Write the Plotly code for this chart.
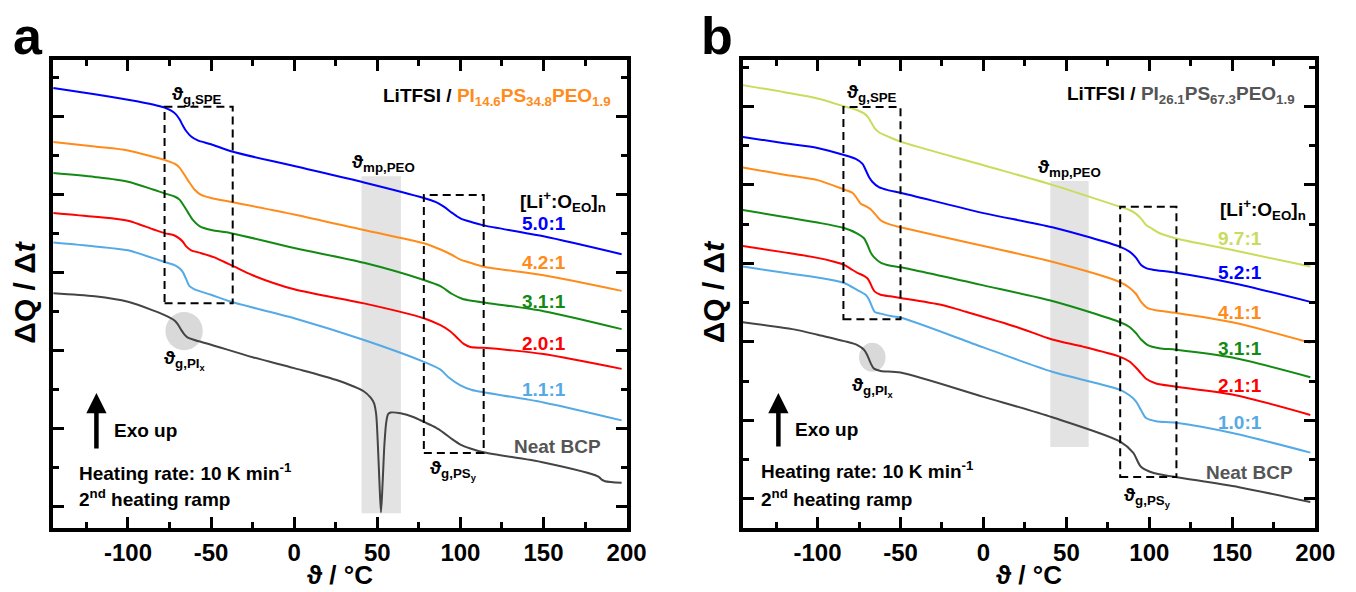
import plotly.graph_objects as go

# ---------------- data: panel a (LiTFSI / PI14.6PS34.8PEO1.9) ----------------
a_T_blue = [-145,-120,-100,-85,-78,-74,-71,-69,-67,-65,-62,-58,-50,-38,0,42,78,85,90,95,100,107,114,150,197]
a_blue   = [5.36,5.28,5.21,5.15,5.11,5.07,5.02,4.96,4.88,4.81,4.74,4.69,4.64,4.55,4.36,4.15,3.95,3.90,3.84,3.76,3.69,3.64,3.60,3.46,3.23]

a_T_orange = [-145,-120,-100,-85,-78,-72,-69,-67,-64,-60,-56,-50,-38,0,42,78,88,95,100,106,114,150,197]
a_orange   = [4.67,4.61,4.56,4.48,4.44,4.39,4.34,4.28,4.18,4.06,3.99,3.95,3.90,3.74,3.54,3.37,3.29,3.22,3.16,3.12,3.07,2.96,2.76]

a_T_green = [-145,-120,-100,-85,-78,-72,-69,-67,-64,-61,-57,-50,-38,0,42,78,88,95,101,108,114,150,197]
a_green   = [4.27,4.22,4.16,4.06,4.01,3.97,3.93,3.87,3.77,3.67,3.59,3.54,3.50,3.31,3.12,2.90,2.82,2.72,2.66,2.63,2.61,2.50,2.27]

a_T_red = [-145,-120,-100,-85,-78,-72,-69,-67,-65,-62,-57,-48,-42,-36,-25,0,42,78,88,94,98,102,106,114,130,150,197]
a_red   = [3.76,3.71,3.66,3.55,3.50,3.47,3.43,3.39,3.33,3.28,3.25,3.19,3.13,3.07,2.96,2.78,2.60,2.41,2.32,2.24,2.16,2.08,2.04,2.03,2.00,1.95,1.76]

a_T_lblue = [-145,-120,-100,-85,-78,-72,-69,-67,-65,-63,-60,-50,-38,0,42,78,88,93,100,107,114,150,197]
a_lblue   = [3.38,3.33,3.28,3.18,3.13,3.09,3.05,3.00,2.91,2.82,2.78,2.71,2.62,2.41,2.13,1.85,1.75,1.65,1.55,1.49,1.46,1.33,1.10]

a_T_neat = [-145,-120,-100,-85,-76,-72,-70,-68,-66,-64,-60,-50,-25,0,25,42,46,48,49.3,50.2,51.2,52.2,53.2,54.3,55.4,56.5,58,64,72,78,85,90,95,100,106,114,150,183,185,187,197]
a_neat   = [2.73,2.69,2.62,2.51,2.43,2.38,2.33,2.26,2.20,2.16,2.13,2.07,1.91,1.77,1.62,1.47,1.39,1.32,1.18,0.85,0.35,-0.08,0.30,0.80,1.08,1.18,1.20,1.19,1.14,1.08,1.01,0.94,0.86,0.79,0.74,0.69,0.56,0.38,0.34,0.32,0.30]

a_labels = ["5.0:1", "4.2:1", "3.1:1", "2.0:1", "1.1:1", "Neat BCP"]
a_label_y = [3.63, 3.12, 2.62, 2.09, 1.49, 0.76]

# ---------------- data: panel b (LiTFSI / PI26.1PS67.3PEO1.9) ----------------
b_T_ygreen = [-145,-120,-100,-84,-76,-72,-69.5,-67.5,-65.5,-63,-57,-50,0,41.5,82.4,88,92,95,98,100.3,105.6,115.7,150,197]
b_ygreen   = [5.27,5.18,5.10,5.00,4.95,4.91,4.86,4.79,4.72,4.67,4.61,4.55,4.25,4.00,3.72,3.68,3.63,3.57,3.49,3.46,3.39,3.32,3.17,2.96]

b_T_blue = [-145,-120,-100,-84,-77,-73,-71,-69,-67,-63,-57,-50,0,41.5,82.4,88,92,95,98,102,116,150,197]
b_blue   = [4.61,4.53,4.47,4.38,4.33,4.27,4.19,4.10,4.04,3.97,3.93,3.90,3.64,3.46,3.21,3.15,3.07,2.98,2.94,2.92,2.88,2.75,2.51]

b_T_orange = [-145,-120,-100,-84,-79,-76,-74,-71,-68,-65,-62,-57,-50,0,41.5,82.4,88,92,95,99,105,116,150,197]
b_orange   = [4.22,4.13,4.06,3.94,3.90,3.82,3.76,3.73,3.69,3.62,3.55,3.50,3.46,3.22,3.02,2.76,2.69,2.61,2.51,2.43,2.40,2.37,2.25,1.99]

b_T_green = [-145,-120,-100,-84,-76,-72,-70,-68,-66,-62,-56,-50,0,41.5,82.4,88,92,95,99,106,116,150,197]
b_green   = [3.68,3.59,3.52,3.45,3.38,3.32,3.24,3.14,3.08,3.01,2.97,2.95,2.72,2.52,2.25,2.19,2.11,2.03,1.96,1.92,1.90,1.80,1.55]

b_T_red = [-145,-120,-100,-90,-84,-80,-76,-72,-70,-68.5,-67,-65.5,-62,-56,-50,-25,-10,20,41.5,60,82.4,88,92,95,98,104,116,150,197]
b_red   = [3.22,3.14,3.07,3.02,2.98,2.93,2.88,2.84,2.81,2.76,2.69,2.64,2.60,2.58,2.56,2.47,2.38,2.19,2.03,1.94,1.81,1.75,1.67,1.60,1.53,1.47,1.43,1.33,1.07]

b_T_lblue = [-145,-120,-100,-84,-76,-71,-69,-67,-65.5,-62,-56,-50,0,41.5,82.4,88,92,95,98,104,116,150,197]
b_lblue   = [2.96,2.88,2.82,2.75,2.66,2.60,2.54,2.44,2.38,2.36,2.33,2.31,1.93,1.62,1.39,1.32,1.24,1.13,1.03,0.99,0.97,0.84,0.59]

b_T_neat = [-145,-112,-100,-84,-76,-72,-70,-68,-66,-62,-50,0,41.5,82.4,90.2,94.9,102.6,115.7,154,197]
b_neat   = [2.25,2.15,2.09,2.01,1.96,1.90,1.83,1.73,1.66,1.63,1.61,1.30,1.04,0.73,0.59,0.41,0.33,0.28,0.15,-0.04]

b_labels = ["9.7:1", "5.2:1", "4.1:1", "3.1:1", "2.1:1", "1.0:1", "Neat BCP"]
b_label_y = [3.32, 2.88, 2.38, 1.92, 1.45, 0.97, 0.34]

x_tick_vals = [-100, -50, 0, 50, 100, 150, 200]
x_tick_text = ["-100", "-50", "0", "50", "100", "150", "200"]

# ---------------- styling ----------------
FONT = "Liberation Sans, Arial, sans-serif"
C_BLUE = "#0000ff"
C_ORANGE = "#ff8c1a"
C_GREEN = "#138a13"
C_RED = "#ff0000"
C_LBLUE = "#55aae6"
C_GRAY = "#444444"
C_YGREEN = "#c9dc5c"
C_LABGRAY = "#555555"

W, H = 1356, 592

fig = go.Figure()

def add_curve(T, y, color, xa, ya):
    fig.add_trace(go.Scatter(x=T, y=y, mode="lines", xaxis=xa, yaxis=ya,
                             line=dict(color=color, width=2, shape="spline", smoothing=0.8),
                             showlegend=False, hoverinfo="skip"))

for T, y, c in [(a_T_blue, a_blue, C_BLUE), (a_T_orange, a_orange, C_ORANGE),
                (a_T_green, a_green, C_GREEN), (a_T_red, a_red, C_RED),
                (a_T_lblue, a_lblue, C_LBLUE), (a_T_neat, a_neat, C_GRAY)]:
    add_curve(T, y, c, "x", "y")

for T, y, c in [(b_T_ygreen, b_ygreen, C_YGREEN), (b_T_blue, b_blue, C_BLUE),
                (b_T_orange, b_orange, C_ORANGE), (b_T_green, b_green, C_GREEN),
                (b_T_red, b_red, C_RED), (b_T_lblue, b_lblue, C_LBLUE),
                (b_T_neat, b_neat, C_GRAY)]:
    add_curve(T, y, c, "x2", "y2")

def xaxis_cfg(domain, anchor):
    return dict(domain=domain, anchor=anchor, range=[-145, 200],
                tickvals=x_tick_vals, ticktext=x_tick_text,
                ticks="inside", ticklen=11, tickwidth=3, tickcolor="black",
                minor=dict(tickvals=[-125, -75, -25, 25, 75, 125, 175], ticks="inside",
                           ticklen=6, tickwidth=2.5, tickcolor="black"),
                showline=True, linewidth=4, linecolor="black", mirror="allticks",
                showgrid=False, zeroline=False,
                tickfont=dict(family=FONT, size=24, color="black", weight="bold"))

def yaxis_cfg(domain, anchor, rng):
    return dict(domain=domain, anchor=anchor, range=rng,
                dtick=1, tick0=0, showticklabels=False,
                ticks="inside", ticklen=11, tickwidth=3, tickcolor="black",
                minor=dict(dtick=0.5, tick0=0.5, ticks="inside", ticklen=6, tickwidth=2.5,
                           tickcolor="black"),
                showline=True, linewidth=4, linecolor="black", mirror="allticks",
                showgrid=False, zeroline=False)

ydom = [(H - 528) / H, (H - 60) / H]
fig.update_layout(
    width=W, height=H, margin=dict(l=0, r=0, t=0, b=0),
    paper_bgcolor="white", plot_bgcolor="white",
    xaxis=xaxis_cfg([54 / W, 636 / W], "y"),
    yaxis=yaxis_cfg(ydom, "x", [-0.28, 5.72]),
    xaxis2=xaxis_cfg([754 / W, 1335 / W], "y2"),
    yaxis2=yaxis_cfg(ydom, "x2", [-0.37, 5.59]),
    font=dict(family=FONT, color="black"),
)

shapes = []
def rect(xr, yr, x0, x1, y0, y1, dashed=False, fill=None):
    if dashed:
        shapes.append(dict(type="rect", xref=xr, yref=yr, x0=x0, x1=x1, y0=y0, y1=y1,
                           line=dict(color="black", width=2, dash="8px,5px"),
                           fillcolor="rgba(0,0,0,0)", layer="above"))
    else:
        shapes.append(dict(type="rect", xref=xr, yref=yr, x0=x0, x1=x1, y0=y0, y1=y1,
                           line=dict(width=0), fillcolor=fill, layer="below"))

def circle(xr, yr, x0, x1, y0, y1):
    shapes.append(dict(type="circle", xref=xr, yref=yr, x0=x0, x1=x1, y0=y0, y1=y1,
                       line=dict(width=0), fillcolor="#d9d9d9", layer="below"))

# panel a
rect("x", "y", 40.5, 64.2, -0.09, 4.23, fill="#e3e3e3")
rect("x", "y", -78, -37, 2.60, 5.12, dashed=True)
rect("x", "y", 78, 114, 0.68, 3.99, dashed=True)
circle("x", "y", -77.5, -55, 2.00, 2.49)
# panel b
rect("x2", "y2", 40.3, 63.4, 0.66, 4.05, fill="#e3e3e3")
rect("x2", "y2", -84.4, -50, 2.29, 4.99, dashed=True)
rect("x2", "y2", 82.4, 116.3, 0.28, 3.72, dashed=True)
circle("x2", "y2", -75, -59, 1.62, 1.99)
fig.update_layout(shapes=shapes)

ann = []
def txt(xr, yr, x, y, text, size=19, color="black", xanchor="center", yanchor="middle"):
    ann.append(dict(xref=xr, yref=yr, x=x, y=y, text=text, showarrow=False,
                    xanchor=xanchor, yanchor=yanchor,
                    font=dict(family=FONT, size=size, color=color, weight="bold")))

# panel a texts
txt("x", "y", -58.5, 5.27, "ϑ<sub>g,SPE</sub>")
txt("x", "y", 191.7, 5.25, "LiTFSI / <span style='color:%s'>PI<sub>14.6</sub>PS<sub>34.8</sub>PEO<sub>1.9</sub></span>" % C_ORANGE, xanchor="right")
txt("x", "y", 53.6, 4.40, "ϑ<sub>mp,PEO</sub>")
txt("x", "y", 189, 3.90, "[Li<sup>+</sup>:O<sub>EO</sub>]<sub>n</sub>", xanchor="right")
for lab, yy, c in zip(a_labels, a_label_y, [C_BLUE, C_ORANGE, C_GREEN, C_RED, C_LBLUE, C_LABGRAY]):
    txt("x", "y", 164.5 if lab != "Neat BCP" else 186, yy, lab, color=c, xanchor="right")
txt("x", "y", -66, 1.87, "ϑ<sub>g,PI<sub>x</sub></sub>")
txt("x", "y", 96, 0.46, "ϑ<sub>g,PS<sub>y</sub></sub>")
txt("x", "y", -109.4, 0.97, "Exo up", xanchor="left")
txt("x", "y", -130.8, 0.44, "Heating rate: 10 K min<sup>-1</sup>", xanchor="left")
txt("x", "y", -130.8, 0.10, "2<sup>nd</sup> heating ramp", xanchor="left")

# panel b texts
txt("x2", "y2", -67.2, 5.17, "ϑ<sub>g,SPE</sub>")
txt("x2", "y2", 188.7, 5.15, "LiTFSI / <span style='color:%s'>PI<sub>26.1</sub>PS<sub>67.3</sub>PEO<sub>1.9</sub></span>" % C_LABGRAY, xanchor="right")
txt("x2", "y2", 51.6, 4.22, "ϑ<sub>mp,PEO</sub>")
txt("x2", "y2", 195.3, 3.68, "[Li<sup>+</sup>:O<sub>EO</sub>]<sub>n</sub>", xanchor="right")
for lab, yy, c in zip(b_labels, b_label_y, [C_YGREEN, C_BLUE, C_ORANGE, C_GREEN, C_RED, C_LBLUE, C_LABGRAY]):
    txt("x2", "y2", 169 if lab != "Neat BCP" else 187.5, yy, lab, color=c, xanchor="right")
txt("x2", "y2", -66.6, 1.43, "ϑ<sub>g,PI<sub>x</sub></sub>")
txt("x2", "y2", 99, 0.03, "ϑ<sub>g,PS<sub>y</sub></sub>")
txt("x2", "y2", -114.7, 0.88, "Exo up", xanchor="left")
txt("x2", "y2", -135.2, 0.37, "Heating rate: 10 K min<sup>-1</sup>", xanchor="left")
txt("x2", "y2", -135.2, 0.01, "2<sup>nd</sup> heating ramp", xanchor="left")

# arrows
for xr, yr, xx, y0, y1 in [("x", "y", -119, 0.72, 1.45), ("x2", "y2", -123.6, 0.65, 1.35)]:
    ann.append(dict(xref=xr, yref=yr, axref=xr, ayref=yr, x=xx, y=y1, ax=xx, ay=y0,
                    text="", showarrow=True, arrowhead=2, arrowsize=0.9, arrowwidth=4.5,
                    arrowcolor="black"))

# axis titles & panel letters
for cx in [345, 1044.5]:
    txt("paper", "paper", cx / W, 0.0, "ϑ / °C", size=26, yanchor="bottom")
for cx in [24, 724]:
    ann.append(dict(xref="paper", yref="paper", x=cx / W, y=1 - 292 / H,
                    text="ΔQ / Δ<i>t</i>", showarrow=False, textangle=-90,
                    xanchor="center", yanchor="middle",
                    font=dict(family=FONT, size=30, color="black", weight="bold")))
txt("paper", "paper", 28 / W, 1 - 36 / H, "a", size=52)
txt("paper", "paper", 728 / W, 1 - 36 / H, "b", size=52)

fig.update_layout(annotations=ann)
fig.write_html("out.html")
